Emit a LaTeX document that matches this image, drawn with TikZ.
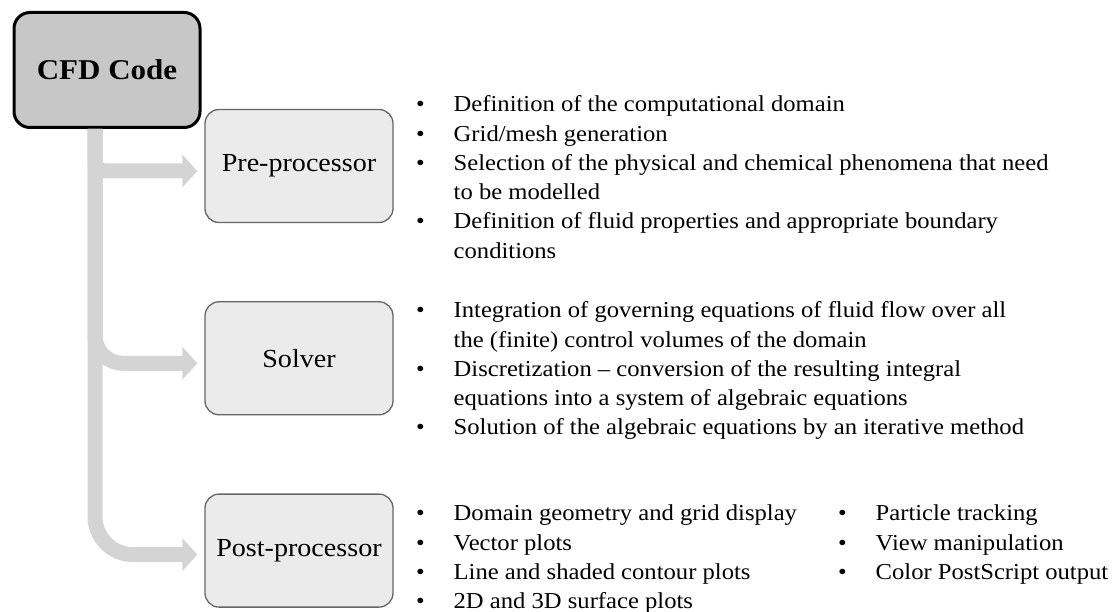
\documentclass[tikz,border=0pt]{standalone}
\usepackage{fontspec}
\setmainfont[FakeStretch=1.08]{Liberation Serif}
\usepackage{xcolor}
\usepackage{tikz}
\usetikzlibrary{arrows.meta,positioning}

\newcommand{\litem}{\strut\makebox[37.5pt][l]{\textbullet}}
\newcommand{\lcont}{\strut\hspace*{37.5pt}}

\begin{document}
\begin{tikzpicture}[x=1pt, y=-1pt,
  code/.style={draw=black, line width=3pt, rounded corners=16pt, fill=black!22, minimum width=186pt, minimum height=115pt, font=\fontsize{28.7}{34}\selectfont\bfseries},
  stage/.style={draw=black!60, line width=1.3pt, rounded corners=14pt, fill=black!8, minimum width=188pt, minimum height=113pt, font=\fontsize{26}{31}\selectfont},
  list/.style={anchor=north west, inner sep=0pt, align=left, font=\fontsize{22.8}{29.3}\selectfont},
  flow/.style={draw=black!17, line width=15pt, -{Triangle[length=15pt, width=32pt]}, shorten >=7pt}]
\useasboundingbox (0,0) rectangle (1115,612);
\node[code] (code) at (107,70) {CFD Code};
\node[stage] (pre) at (299,166) {Pre-processor};
\node[stage, below=78pt of pre] (solver) {Solver};
\node[stage, below=78pt of solver] (post) {Post-processor};
\coordinate (trunk) at ([xshift=-12pt]code.south);
% branches from the code box
\draw[flow, rounded corners=38pt] (trunk) |- ([yshift=-4pt]post.west);
\draw[flow, rounded corners=28pt] (trunk) |- ([yshift=-5pt]solver.west);
\draw[flow, rounded corners=10pt] (trunk) |- ([yshift=-5pt]pre.west);
% lists
\node[list] (prelist) at (416,91) {\litem Definition of the computational domain\\
\litem Grid/mesh generation\\
\litem Selection of the physical and chemical phenomena that need\\
\lcont to be modelled\\
\litem Definition of fluid properties and appropriate boundary\\
\lcont conditions};
\node[list] (solverlist) at (416,297) {\litem Integration of governing equations of fluid flow over all\\
\lcont the (finite) control volumes of the domain\\
\litem Discretization -- conversion of the resulting integral\\
\lcont equations into a system of algebraic equations\\
\litem Solution of the algebraic equations by an iterative method};
\node[list] (postlist) at (416,500) {\litem Domain geometry and grid display\\
\litem Vector plots\\
\litem Line and shaded contour plots\\
\litem 2D and 3D surface plots};
\node[list] (postlistb) at (838,500) {\litem Particle tracking\\
\litem View manipulation\\
\litem Color PostScript output};
\end{tikzpicture}
\end{document}
